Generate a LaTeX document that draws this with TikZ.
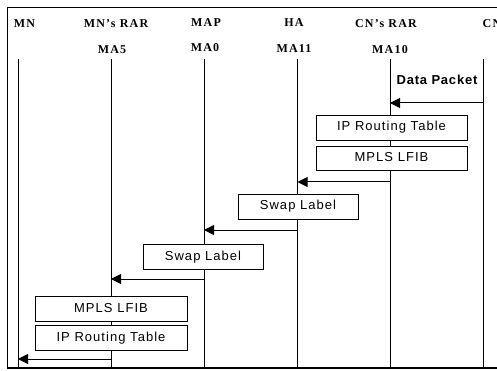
\documentclass[tikz,border=0pt]{standalone}
\usepackage{fontspec}
\setmainfont{Liberation Serif}
\newfontfamily\headfont[LetterSpace=10]{Liberation Serif}
\newfontfamily\boxfont[LetterSpace=8]{Liberation Sans}
\newfontfamily\pktfont[LetterSpace=6]{Liberation Sans}
\usetikzlibrary{arrows.meta}
\begin{document}
\begin{tikzpicture}[x=1pt,y=-1pt,
  hdr/.style={font=\headfont\fontsize{12}{14}\selectfont\bfseries, anchor=base, inner sep=0pt},
  life/.style={line width=1pt},
  msg/.style={line width=1pt, -{Triangle[length=10pt,width=10pt]}},
  tablebox/.style={draw, line width=0.9pt, fill=white, inner sep=0pt,
    font=\boxfont\fontsize{13}{15}\selectfont, text height=9.5pt, text depth=2.5pt}]
  \useasboundingbox (0,0) rectangle (497,371);

  % outer frame (continues past the right edge)
  \draw[line width=1.6pt] (520,7.5) -- (7.5,7.5) -- (7.5,368) -- (520,368);

  % participant headings
  \node[hdr] (hMN)   at (24.5,27.5) {MN};
  \node[hdr] (hMNR)  at (116,27.5)  {MN’s RAR};
  \node[hdr] (hMAP)  at (206,26.5)  {MAP};
  \node[hdr] (hHA)   at (294,26.5)  {HA};
  \node[hdr] (hCNR)  at (386,27.5)  {CN’s RAR};
  \node[hdr] (hCN)   at (492,27.5)  {CN};
  \node[hdr] (aMA5)  at (112,53.5)  {MA5};
  \node[hdr] (aMA0)  at (205,51.5)  {MA0};
  \node[hdr] (aMA11) at (294,52.5)  {MA11};
  \node[hdr] (aMA10) at (390,54)    {MA10};

  % lifelines
  \foreach \n/\x in {mn/18, mnr/111, map/204, ha/297.5, cnr/390, cn/483} {
    \coordinate (\n-top) at (\x,59);
    \coordinate (\n-bot) at (\x,368);
    \draw[life] (\n-top) -- (\n-bot);
  }

  % packet label
  \node[font=\pktfont\fontsize{13}{15}\selectfont\bfseries, inner sep=0pt]
    (pkt) at (437,80) {Data Packet};

  % message arrows
  \draw[msg] (cn-top |- 0,103)  -- (cnr-top |- 0,103);
  \draw[msg] (cnr-top |- 0,182) -- (ha-top |- 0,182);
  \draw[msg] (ha-top |- 0,230)  -- (map-top |- 0,230);
  \draw[msg] (map-top |- 0,279) -- (mnr-top |- 0,279);
  \draw[msg] (mnr-top |- 0,359) -- (mn-top |- 0,359);

  % processing boxes
  \node[tablebox, minimum width=151pt, minimum height=25pt] (ipt1)  at (391.5,127.5) {IP Routing Table};
  \node[tablebox, minimum width=151pt, minimum height=24pt] (lfib1) at (391.5,158)   {MPLS LFIB};
  \node[tablebox, minimum width=120pt, minimum height=25pt] (swap1) at (298,206.5)   {Swap Label};
  \node[tablebox, minimum width=120pt, minimum height=25pt] (swap2) at (203,256.5)   {Swap Label};
  \node[tablebox, minimum width=152pt, minimum height=25pt] (lfib2) at (111,308.5)   {MPLS LFIB};
  \node[tablebox, minimum width=152pt, minimum height=25pt] (ipt2)  at (111,337.5)   {IP Routing Table};
\end{tikzpicture}
\end{document}
